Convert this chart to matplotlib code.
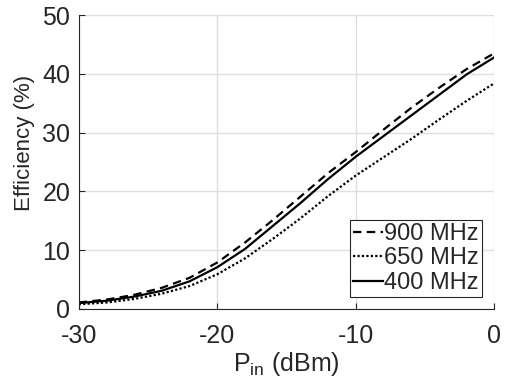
import matplotlib
matplotlib.use('Agg')
import matplotlib.pyplot as plt

plt.rcParams['font.family'] = ['Liberation Sans', 'DejaVu Sans']
plt.rcParams['mathtext.default'] = 'regular'
plt.rcParams['axes.unicode_minus'] = False

# Potencia de entrada (dBm) e eficiencia (%)
p_in = [-30, -28, -26, -24, -22, -20, -18, -16, -14, -12, -10, -8, -6, -4, -2, 0]
ef_900 = [1.1, 1.6, 2.4, 3.6, 5.3, 7.9, 11.3, 15.1, 19.1, 23.1, 26.7, 30.5, 34.2, 37.6, 40.8, 43.5]
ef_650 = [0.8, 1.1, 1.7, 2.6, 3.9, 5.9, 8.6, 11.9, 15.4, 19.2, 22.7, 25.8, 28.9, 32.2, 35.4, 38.4]
ef_400 = [1.0, 1.4, 2.1, 3.1, 4.7, 7.1, 10.2, 14.1, 18.0, 22.1, 25.9, 29.4, 32.9, 36.4, 39.9, 42.8]

legendas = ['900 MHz', '650 MHz', '400 MHz']
xticks = [-30, -20, -10, 0]
yticks = [0, 10, 20, 30, 40, 50]

cor_texto = '#262626'

fig = plt.figure(figsize=(5.06, 3.87), dpi=100)
ax = fig.add_axes([0.1555, 0.2016, 0.8214, 0.7596])

ax.plot(p_in, ef_900, color='black', lw=1.6, linestyle=(0, (3.8, 2.4)), label=legendas[0])
ax.plot(p_in, ef_650, color='black', lw=1.6, linestyle=(0, (1, 1)), label=legendas[1])
ax.plot(p_in, ef_400, color='black', lw=1.6, linestyle='-', label=legendas[2])

ax.set_xlim(-30, 0)
ax.set_ylim(0, 50)
ax.set_xticks(xticks)
ax.set_yticks(yticks)
ax.grid(True, color='#dfdfdf', lw=1)
ax.set_axisbelow(True)

ax.spines['top'].set_visible(False)
ax.spines['right'].set_visible(False)
ax.spines['left'].set_color(cor_texto)
ax.spines['bottom'].set_color(cor_texto)
ax.tick_params(direction='in', length=4, width=0.8, colors=cor_texto, labelsize=18)
ax.tick_params(axis='x', pad=10.5)
ax.tick_params(axis='y', pad=6)

ax.set_xlabel('P$_{in}$ (dBm)', fontsize=18, color=cor_texto, labelpad=2)
ax.set_ylabel('Efficiency (%)', fontsize=16, color=cor_texto)
ax.yaxis.set_label_coords(-0.105, 0.566)

leg = ax.legend(loc='lower right', bbox_to_anchor=(0.970, 0.042), borderaxespad=0,
                fontsize=17, handlelength=1.3, handletextpad=0.05, labelspacing=0.1,
                borderpad=0.12, fancybox=False, framealpha=1, edgecolor=cor_texto)
leg.get_frame().set_linewidth(0.8)
for t in leg.get_texts():
    t.set_color(cor_texto)

fig.savefig('out.png', dpi=100)
